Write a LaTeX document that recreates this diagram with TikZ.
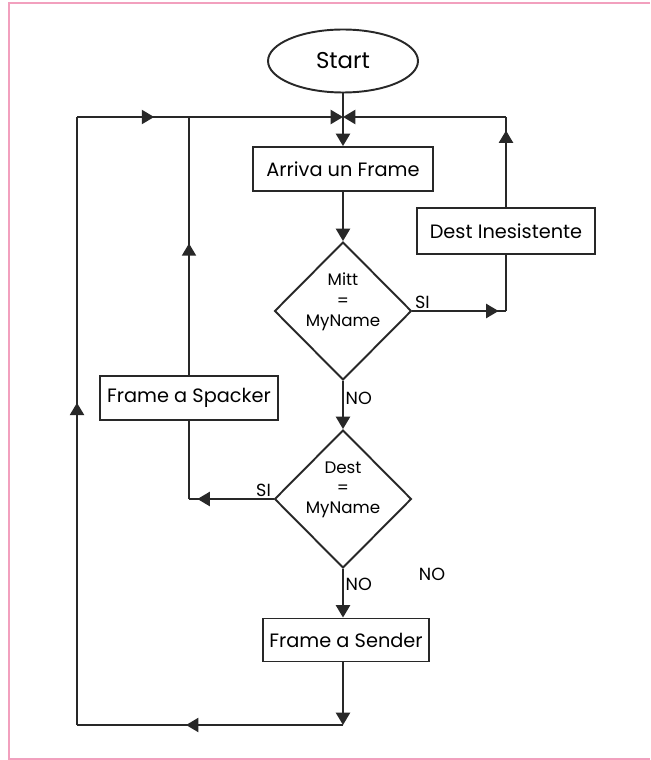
\documentclass[tikz,border=0pt]{standalone}
\usepackage{fontspec}
\setmainfont{Poppins}
\usetikzlibrary{arrows.meta,shapes.geometric,decorations.markings}
\definecolor{inkGray}{RGB}{40,40,40}
\definecolor{pageRose}{RGB}{242,160,190}

\begin{document}
\begin{tikzpicture}[x=0.02cm,y=-0.02cm,
    box/.style={draw=inkGray,line width=1.1pt,minimum width=3.6cm,minimum height=0.88cm,inner sep=2pt,font=\fontsize{11}{13}\selectfont},
    test/.style={draw=inkGray,line width=1.1pt,diamond,aspect=1,minimum width=2.74cm,minimum height=2.76cm,inner sep=-14pt,align=center,text depth=0.45cm,font=\fontsize{9.5}{11.5}\selectfont},
    flow/.style={draw=inkGray,line width=1.1pt},
    arrow/.style={flow,-{Triangle[width=8pt,length=7pt]}},
    tipat/.style={postaction={decorate,decoration={markings,mark=at position #1 with {\arrow[inkGray]{Triangle[width=8pt,length=7pt]}}}}},
    tag/.style={font=\fontsize{10}{12}\selectfont,inner sep=1pt}
  ]
    \useasboundingbox (0,0) rectangle (650,760);
    \draw[pageRose,line width=1.5pt] (650,3) -- (9,3) -- (9,759) -- (650,759);

    \node[draw=inkGray,line width=1.1pt,ellipse,minimum width=3cm,minimum height=1.26cm,font=\fontsize{13}{15}\selectfont] (start) at (343,61) {Start};
    \node[box] (arriva) at (343,169) {Arriva un Frame};
    \node[test] (mitt) at (343,311) {Mitt\\=\\MyName};
    \node[box,minimum width=3.56cm,minimum height=0.92cm] (inesist) at (506,231) {Dest Inesistente};
    \node[test] (destq) at (343,499) {Dest\\=\\MyName};
    \node[box,minimum width=3.56cm] (spacker) at (189,398) {Frame a Spacker};
    \node[box,minimum width=3.32cm,minimum height=0.86cm] (sender) at (346,640) {Frame a Sender};
    \node[tag] (stray) at (432,574) {NO};

    \coordinate (top) at (343,117);
    \coordinate (tl) at (77,117);
    \coordinate (tm) at (189,117);
    \coordinate (tr) at (506,117);
    \coordinate (rr) at (506,311);
    \coordinate (sl) at (189,499);
    \coordinate (bl) at (77,725);
    \coordinate (bm) at (343,725);

    \draw[flow] (start) -- (top);
    \draw[arrow] (top) -- (arriva);
    \draw[arrow] (arriva) -- (mitt);
    \draw[arrow] (mitt) -- node[tag,right,pos=0.36] (mittno) {NO} (destq);
    \draw[flow,tipat=0.92] (mitt.east) -- node[tag,above right,pos=0] (mittsi) {SI} (rr);
    \draw[flow] (rr) -- (inesist);
    \draw[flow,tipat=0.85] (inesist) -- (tr);
    \draw[arrow] (tr) -- (top);
    \draw[arrow,tipat=0.29] (tl) -- (top);
    \draw[flow,tipat=0.9] (destq.west) -- node[tag,above left,pos=0] (destsi) {SI} (sl);
    \draw[flow] (sl) -- (spacker);
    \draw[flow,tipat=0.51] (spacker) -- (tm);
    \draw[arrow] (destq.south) -- node[tag,right,pos=0.31] (destno) {NO} (destq.south |- sender.north);
    \draw[arrow] (bm |- sender.south) -- (bm);
    \draw[flow,tipat=0.59] (bm) -- (bl);
    \draw[flow,tipat=0.53] (bl) -- (tl);
  \end{tikzpicture}
\end{document}
